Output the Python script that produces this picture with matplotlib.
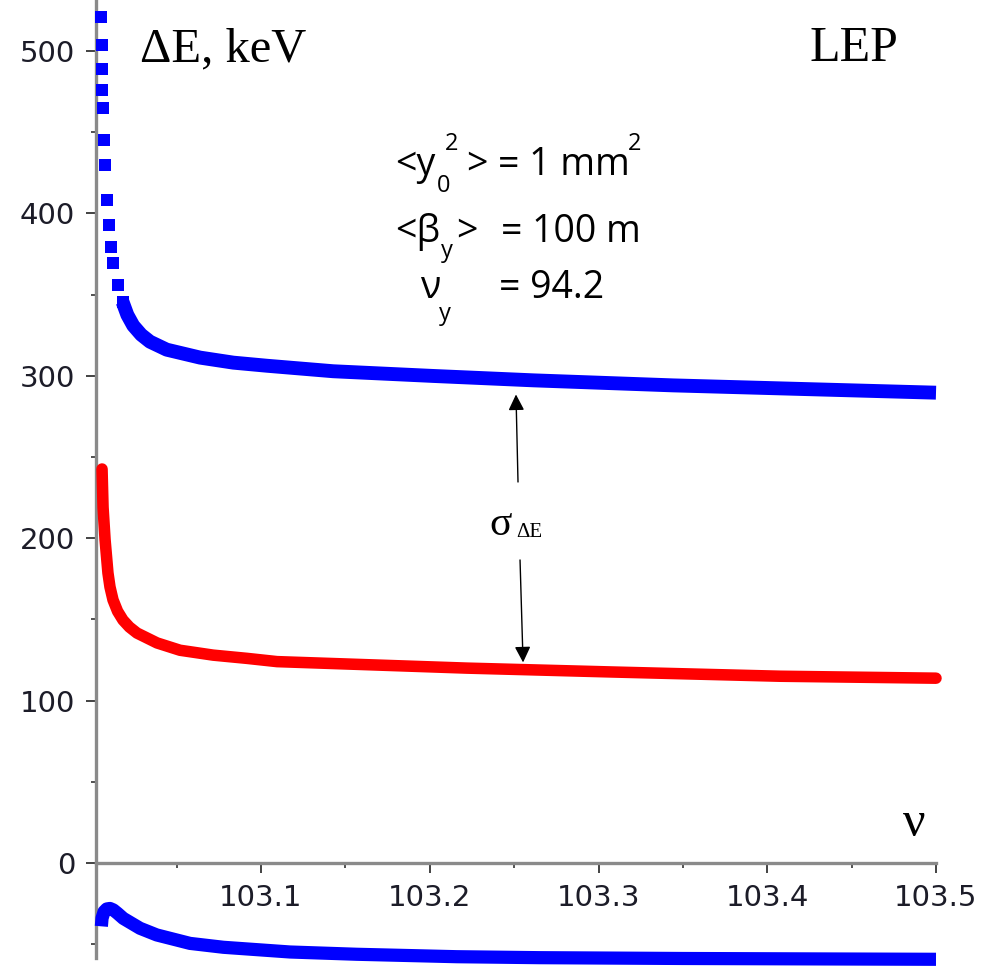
import matplotlib
matplotlib.use("Agg")
import matplotlib.pyplot as plt
from matplotlib.ticker import FixedLocator

# upper blue curve: sparse box points on the steep part, then a dense band
blue_pts_nu = [103.0052, 103.0057, 103.0058, 103.0060, 103.0064, 103.0070, 103.0073,
               103.0088, 103.0097, 103.0112, 103.0122, 103.0151, 103.0180]
blue_pts_de = [520.9, 503.7, 488.9, 476.0, 464.9, 445.2, 429.8,
               408.3, 392.9, 379.3, 369.5, 355.9, 345.4]
blue_nu = [103.0180, 103.0208, 103.0243, 103.0290, 103.0342, 103.0441, 103.0639,
           103.0836, 103.1034, 103.1428, 103.2021, 103.2614, 103.3441, 103.4234,
           103.5000]
blue_de = [345.4, 337.5, 330.9, 325.3, 321.0, 316.1, 311.2,
           308.1, 306.2, 302.8, 299.9, 297.2, 294.1, 291.8,
           289.6]

# red curve (sigma of dE)
red_nu = [103.0058, 103.0064, 103.0076, 103.0093, 103.0105, 103.0123, 103.0150,
          103.0182, 103.0220, 103.0265, 103.0384, 103.0520, 103.0716, 103.0917,
          103.1095, 103.2220, 103.3086, 103.4076, 103.5000]
red_de = [242.6, 219.0, 199.0, 178.6, 170.0, 162.0, 155.0,
          149.6, 145.3, 141.6, 135.5, 131.0, 128.0, 126.0,
          124.0, 120.0, 117.6, 115.0, 113.8]

# lower blue curve, below zero
low_nu = [103.0054, 103.0058, 103.0070, 103.0086, 103.0105, 103.0125, 103.0150,
          103.0184, 103.0283, 103.0382, 103.0579, 103.0777, 103.1172, 103.1567,
          103.2160, 103.2653, 103.3500, 103.5000]
low_de = [-39.0, -34.0, -30.0, -28.3, -28.0, -28.9, -31.0,
          -34.1, -40.2, -44.3, -49.5, -51.9, -54.8, -56.2,
          -57.7, -58.3, -58.8, -59.3]

x_ticks = [103.1, 103.2, 103.3, 103.4, 103.5]
y_ticks = [0, 100, 200, 300, 400, 500]

W, H = 1004, 966
fig = plt.figure(figsize=(W / 100, H / 100), dpi=100)
ax = fig.add_axes([96 / W, 8 / H, 840 / W, 958 / H])
ax.set_xlim(103.00222, 103.5)
ax.set_ylim(-58.5, 531.4)

ax.plot(blue_pts_nu, blue_pts_de, ls='none', marker='s', ms=9.2, color='#0000ff',
        mew=0, clip_on=False, zorder=3)
ax.plot(blue_nu, blue_de, color='#0000ff', lw=10, solid_capstyle='butt',
        solid_joinstyle='round', clip_on=False, zorder=3)
ax.plot(red_nu, red_de, color='#ff0000', lw=8.3, solid_capstyle='round',
        solid_joinstyle='round', clip_on=False, zorder=3)
ax.plot(low_nu, low_de, color='#0000ff', lw=9.5, solid_capstyle='butt',
        solid_joinstyle='round', clip_on=False, zorder=3)

# axes in Maple style: gray lines crossing at zero
for side in ('top', 'right'):
    ax.spines[side].set_visible(False)
ax.spines['bottom'].set_position(('data', 0))
for side in ('left', 'bottom'):
    ax.spines[side].set_color('#8a8a8a')
    ax.spines[side].set_linewidth(2.4)
    ax.spines[side].set_zorder(2)

ax.xaxis.set_major_locator(FixedLocator(x_ticks))
ax.xaxis.set_minor_locator(FixedLocator([103.05, 103.15, 103.25, 103.35, 103.45]))
ax.yaxis.set_major_locator(FixedLocator(y_ticks))
ax.yaxis.set_minor_locator(FixedLocator([-50, 50, 150, 250, 350, 450]))
ax.set_xticklabels([f"{v:.1f}" for v in x_ticks])
ax.tick_params(which='major', direction='out', length=7, width=1.2, color='#222222',
               labelsize=21, labelcolor='#1c1c28', pad=8)
ax.tick_params(which='minor', direction='out', length=3.5, width=1.2, color='#333333')
for lab in ax.get_xticklabels() + ax.get_yticklabels():
    lab.set_family('DejaVu Sans')


def put(px, py, s, **kw):
    fig.text(px / W, 1 - py / H, s, va='baseline', **kw)


serif = 'Liberation Serif'
sans = ['Open Sans', 'DejaVu Sans']
put(140, 61, "ΔE, keV", family=serif, size=35)
put(810, 61, "LEP", family=serif, size=36)
put(903, 836, "ν", family=serif, size=36)

put(395, 175, "<y", family=sans, size=27)
put(437, 192, "0", family=sans, size=17)
put(445, 150, "2", family=sans, size=17)
put(466, 175, ">", family=sans, size=27)
put(498, 175, "= 1 mm", family=sans, size=27)
put(628, 150, "2", family=sans, size=17)

put(395, 242, "<β", family=sans, size=27)
put(441, 257, "y", family=sans, size=17)
put(456, 242, ">", family=sans, size=27)
put(501, 242, "= 100 m", family=sans, size=27)

put(420, 298, "ν", family=sans, size=27)
put(439, 320, "y", family=sans, size=17)
put(499, 298, "= 94.2", family=sans, size=27)

put(489, 535, "σ", family=serif, size=30)
put(516, 537, "ΔE", family=serif, size=15)

arrow = dict(arrowstyle='-|>', color='black', lw=1.0, mutation_scale=24,
             shrinkA=0, shrinkB=0)
ax.annotate('', xy=(103.2511, 288.5), xytext=(103.2523, 234.6), arrowprops=arrow)
ax.annotate('', xy=(103.2553, 123.5), xytext=(103.2535, 186.6), arrowprops=arrow)

fig.savefig("out.png", dpi=100)
